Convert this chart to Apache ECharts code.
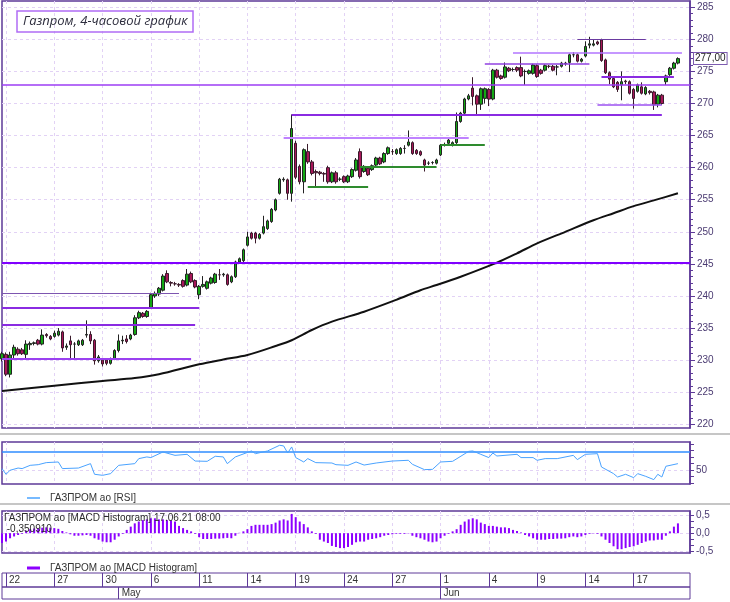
<!DOCTYPE html>
<html>
<head>
<meta charset="utf-8">
<title>Газпром, 4-часовой график</title>
<script src="https://cdn.jsdelivr.net/npm/echarts@6/dist/echarts.min.js"></script>
<style>
  html, body { margin: 0; padding: 0; background: #fff; }
  #chart { width: 730px; height: 602px; }
</style>
</head>
<body>
<div id="chart"></div>
<script>
// 4-hour candles, one value per bar
const opens = [
  230.2, 230.9, 227.8, 230.8, 231.7, 231.6, 230.9, 232.4, 232.6, 233.1,
  232.5, 234.0, 233.7, 233.7, 233.9, 234.4, 232.0, 233.0, 232.5, 232.4,
  232.4, 233.9, 234.0, 233.1, 229.9, 230.0, 230.0, 229.5, 230.2, 231.5,
  233.0, 233.3, 233.3, 234.0, 236.6, 237.3, 236.8, 238.2, 240.0, 240.3,
  240.9, 243.5, 242.1, 241.9, 241.8, 242.4, 241.7, 243.5, 242.4, 240.2,
  241.5, 241.2, 242.0, 242.1, 243.3, 243.3, 243.3, 242.2, 243.0, 245.3,
  245.5, 247.9, 249.8, 249.8, 249.0, 249.8, 250.5, 251.6, 253.4, 256.0,
  258.1, 258.1, 256.0, 263.8, 260.2, 257.8, 262.5, 260.9, 259.4, 259.3,
  259.1, 260.0, 257.8, 259.2, 258.2, 258.6, 257.8, 258.6, 259.6, 262.5,
  259.4, 259.9, 259.7, 260.4, 261.5, 260.9, 262.2, 262.5, 262.2, 262.2,
  263.0, 263.5, 263.9, 262.7, 262.5, 261.2, 260.7, 260.8, 260.7, 262.0,
  263.6, 263.8, 263.5, 263.9, 267.2, 268.5, 270.7, 272.4, 271.2, 269.9,
  270.8, 272.2, 270.7, 275.2, 274.3, 274.1, 275.5, 275.3, 275.6, 275.6,
  275.0, 274.7, 274.7, 275.9, 275.2, 275.2, 275.8, 275.8, 275.7, 275.8,
  276.2, 276.4, 277.6, 277.6, 276.6, 277.4, 279.1, 279.1, 279.6, 279.9,
  276.8, 274.8, 273.9, 273.3, 272.9, 273.5, 273.4, 272.2, 271.9, 272.6,
  271.5, 271.9, 271.8, 269.9, 271.3, 273.4, 274.5, 275.5, 276.3
];
const closes = [
  231.0, 227.8, 230.8, 232.0, 231.0, 231.0, 232.5, 232.6, 232.7, 232.5,
  233.9, 233.8, 233.3, 234.2, 234.5, 231.9, 232.2, 232.4, 232.5, 233.0,
  233.1, 234.0, 233.0, 229.9, 230.5, 229.4, 229.5, 230.2, 231.5, 233.0,
  233.1, 232.9, 233.9, 236.6, 237.4, 236.8, 237.6, 240.2, 240.4, 241.2,
  243.1, 242.2, 242.0, 241.9, 241.7, 241.5, 243.4, 242.2, 241.4, 241.5,
  241.8, 242.2, 242.8, 243.4, 243.3, 243.4, 241.8, 243.0, 245.3, 245.8,
  247.2, 249.2, 249.0, 249.0, 249.6, 250.8, 251.7, 253.5, 255.0, 258.2,
  258.2, 256.0, 266.1, 258.5, 257.8, 262.8, 260.9, 259.1, 259.2, 259.1,
  259.0, 257.8, 259.2, 257.8, 258.2, 257.8, 258.7, 259.7, 261.2, 258.6,
  260.2, 258.9, 260.3, 261.5, 260.6, 262.2, 263.1, 262.5, 262.8, 263.0,
  263.0, 264.0, 262.2, 262.2, 262.0, 260.4, 260.7, 260.8, 261.2, 263.5,
  263.6, 264.3, 263.9, 267.2, 268.5, 270.7, 271.2, 271.1, 269.9, 272.3,
  272.3, 270.7, 275.2, 274.1, 273.9, 275.7, 275.1, 275.3, 275.2, 274.3,
  275.0, 275.1, 276.0, 274.2, 274.7, 275.9, 275.8, 275.2, 275.7, 276.3,
  276.3, 277.6, 277.6, 276.6, 276.9, 278.9, 279.3, 279.3, 279.3, 276.7,
  274.8, 273.8, 272.6, 272.2, 273.4, 273.4, 271.6, 270.8, 272.9, 271.6,
  272.5, 271.7, 269.8, 271.3, 270.0, 274.3, 275.5, 276.3, 277.0
];
const lows = [
  229.8, 227.5, 227.3, 230.3, 230.7, 230.8, 230.2, 231.6, 232.3, 232.3,
  232.3, 233.5, 233.1, 233.5, 233.7, 231.3, 231.6, 230.2, 230.2, 232.2,
  232.2, 233.5, 232.5, 229.3, 229.6, 229.0, 229.2, 229.3, 230.0, 231.2,
  232.5, 232.6, 233.1, 233.8, 236.4, 236.6, 236.6, 238.0, 239.7, 240.0,
  240.7, 242.0, 241.5, 241.6, 241.4, 241.3, 241.5, 242.0, 241.2, 239.5,
  241.3, 241.0, 241.8, 241.9, 242.5, 243.0, 241.6, 242.0, 242.8, 245.1,
  245.3, 247.7, 248.8, 248.2, 248.8, 249.6, 250.3, 251.4, 253.2, 255.8,
  257.8, 255.0, 254.7, 258.2, 257.4, 256.0, 260.6, 258.8, 256.9, 258.8,
  257.8, 257.5, 257.6, 257.5, 257.9, 257.6, 257.6, 258.4, 259.4, 258.3,
  259.2, 258.7, 259.5, 260.2, 260.4, 260.7, 262.0, 262.0, 262.0, 262.0,
  262.2, 263.3, 262.0, 262.0, 261.8, 259.4, 260.4, 260.5, 260.5, 261.8,
  263.3, 263.6, 263.3, 263.7, 267.0, 268.3, 270.5, 269.7, 268.2, 269.0,
  270.0, 269.6, 270.5, 273.9, 273.7, 273.9, 274.9, 275.0, 274.9, 274.1,
  272.9, 274.5, 274.5, 274.0, 274.5, 275.0, 275.5, 275.0, 274.4, 275.6,
  275.9, 274.9, 277.2, 276.4, 276.4, 277.2, 278.6, 278.9, 279.1, 276.5,
  274.6, 273.0, 272.4, 271.8, 270.5, 273.0, 271.4, 269.2, 271.7, 271.4,
  271.3, 271.4, 269.0, 269.4, 269.8, 272.9, 274.3, 275.3, 276.1
];
const highs = [
  231.3, 231.2, 231.3, 232.4, 232.0, 231.9, 233.1, 232.9, 232.9, 233.3,
  234.8, 234.2, 233.9, 234.6, 235.0, 234.6, 232.6, 233.8, 232.8, 233.2,
  233.3, 236.2, 234.5, 233.3, 230.8, 230.2, 230.3, 230.4, 231.7, 234.0,
  233.8, 233.9, 234.1, 237.0, 237.7, 237.5, 237.8, 240.5, 240.7, 241.4,
  243.4, 244.0, 242.3, 242.2, 242.0, 242.6, 244.2, 243.8, 242.6, 241.7,
  243.1, 242.4, 243.0, 243.6, 244.2, 243.6, 243.5, 243.2, 245.5, 246.0,
  247.4, 250.0, 250.0, 250.0, 249.8, 252.5, 251.9, 253.7, 255.2, 258.4,
  258.5, 258.3, 268.3, 264.2, 260.5, 263.0, 263.7, 261.2, 259.7, 259.5,
  259.3, 260.3, 259.4, 259.5, 258.5, 258.8, 258.9, 259.9, 261.5, 263.0,
  260.4, 260.1, 260.5, 261.7, 261.7, 262.4, 263.3, 262.9, 263.0, 263.2,
  263.5, 265.8, 264.1, 262.9, 262.7, 261.4, 261.0, 261.0, 261.4, 263.7,
  263.9, 264.5, 264.1, 268.6, 268.7, 270.9, 271.5, 274.1, 271.4, 272.5,
  272.5, 272.4, 275.4, 275.4, 274.5, 276.4, 275.7, 275.6, 275.8, 277.3,
  275.3, 275.3, 276.2, 276.1, 275.4, 276.1, 276.0, 276.0, 276.0, 276.5,
  276.5, 277.8, 278.0, 277.8, 277.1, 279.7, 280.4, 279.9, 279.8, 280.1,
  277.0, 275.0, 274.1, 273.5, 275.0, 273.7, 273.6, 272.4, 273.1, 273.3,
  272.7, 272.1, 272.0, 271.5, 271.5, 274.5, 275.7, 276.5, 277.2
];

// moving average: [bar, value]
const maPoints = [
  [0, 225.2], [13, 226.0], [25, 226.75], [33, 227.2], [39, 227.8], [49, 229.35],
  [55, 230.1], [61, 230.8], [68, 232.2], [72, 233.1], [77, 234.7], [82, 236.0],
  [90, 237.55], [98, 239.4], [104, 240.9], [108, 241.7], [114, 243.0], [123, 245.2],
  [128, 246.65], [133, 248.2], [140, 250.0], [147, 251.8], [152, 252.9], [157, 254.0],
  [162, 254.9], [168, 256.0]
];

// RSI: [bar, value]
const rsiPoints = [
  [0, 51.5], [1, 45.4], [2, 49.7], [4, 52.1], [5, 51.5], [7, 55.0], [9, 55.7], [11, 57.9],
  [14, 58.6], [15, 51.5], [19, 52.1], [22, 56.8], [23, 45.4], [25, 44.3], [27, 46.1],
  [29, 55.0], [33, 56.8], [34, 62.2], [36, 64.0], [37, 63.3], [40, 69.3], [43, 65.7],
  [46, 66.8], [48, 59.6], [51, 59.3], [53, 64.7], [55, 64.0], [56, 56.8], [58, 64.0],
  [62, 70.4], [63, 67.5], [66, 70.4], [69, 76.5], [70, 75.8], [71, 68.2], [72, 74.7],
  [73, 63.3], [75, 58.6], [76, 62.2], [78, 57.9], [82, 57.5], [83, 55.7], [86, 55.0],
  [88, 58.6], [90, 55.3], [93, 57.5], [97, 59.6], [101, 60.4], [102, 56.1], [105, 50.4],
  [107, 50.7], [109, 58.6], [112, 59.3], [116, 70.0], [117, 70.4], [119, 66.8],
  [121, 63.3], [122, 68.2], [123, 65.0], [128, 66.8], [129, 63.3], [132, 63.3],
  [133, 60.4], [135, 62.2], [138, 62.2], [142, 65.7], [143, 61.1], [145, 66.8],
  [148, 67.5], [149, 53.2], [152, 46.1], [153, 42.5], [155, 45.4], [157, 41.8],
  [158, 46.1], [160, 43.2], [162, 39.7], [163, 45.4], [164, 42.5], [165, 54.0], [168, 56.8]
];

// MACD histogram, one value per bar
const macdHist = [
  -0.27, -0.23, -0.14, -0.09, -0.05, -0.02, 0.07, 0.11, 0.13, 0.14,
  0.15, 0.16, 0.15, 0.14, 0.12, 0.06, 0.02, -0.03, -0.07, -0.07,
  -0.06, -0.05, -0.07, -0.14, -0.18, -0.23, -0.25, -0.25, -0.18, -0.09,
  -0.02, 0.09, 0.18, 0.27, 0.32, 0.36, 0.38, 0.41, 0.41, 0.38,
  0.38, 0.36, 0.35, 0.32, 0.20, 0.14, 0.09, 0.05, -0.02, -0.11,
  -0.16, -0.16, -0.16, -0.15, -0.15, -0.14, -0.13, -0.14, -0.07, 0.01,
  0.05, 0.11, 0.20, 0.23, 0.23, 0.23, 0.23, 0.25, 0.29, 0.35,
  0.38, 0.35, 0.53, 0.44, 0.32, 0.25, 0.16, 0.05, -0.02, -0.18,
  -0.23, -0.27, -0.35, -0.38, -0.41, -0.41, -0.38, -0.32, -0.25, -0.23,
  -0.23, -0.18, -0.16, -0.14, -0.11, -0.07, -0.05, -0.03, -0.02, -0.02,
  -0.02, -0.01, -0.07, -0.11, -0.14, -0.18, -0.23, -0.25, -0.23, -0.14,
  -0.07, -0.02, 0.05, 0.11, 0.23, 0.32, 0.38, 0.41, 0.38, 0.29,
  0.25, 0.20, 0.20, 0.18, 0.16, 0.16, 0.14, 0.09, 0.06, 0.02,
  -0.05, -0.09, -0.14, -0.18, -0.18, -0.18, -0.16, -0.16, -0.15, -0.15,
  -0.14, -0.11, -0.09, -0.11, -0.09, -0.05, -0.02, -0.01, -0.02, -0.09,
  -0.18, -0.27, -0.36, -0.44, -0.44, -0.41, -0.38, -0.36, -0.32, -0.27,
  -0.23, -0.20, -0.20, -0.18, -0.18, -0.07, 0.05, 0.18, 0.27
];

// date axis
const dayLabels = ['22', '27', '30', '6', '11', '14', '19', '24', '27', '1', '4', '9', '14', '17'];
const dayBars = [1, 13, 25, 37, 49, 61, 73, 85, 97, 109, 121, 133, 145, 157];
const monthLabels = ['May', 'Jun'];
const monthBars = [29, 109];

const priceTicks = [220, 225, 230, 235, 240, 245, 250, 255, 260, 265, 270, 275, 280, 285];
const rsiTicks = [36, 43, 50, 57, 64, 71, 78];
const rsiLabels = [50];
const macdTicks = [-0.5, -0.333, -0.167, 0, 0.167, 0.333, 0.5];
const macdLabels = [-0.5, 0, 0.5];

// support / resistance lines: [price, fromBar, toBar]; null = whole width
const levels = [
  [272.85, null, null],
  [268.3, 72, 164],
  [264.7, 70, 116],
  [257.0, 76, 91],
  [260.15, 89, 108],
  [263.64, 109, 120],
  [276.27, 120, 146],
  [277.98, 127, 169],
  [279.96, 143, 160],
  [274.14, 149, 167],
  [269.88, 148, 164],
  [245.2, null, null],
  [240.4, 0, 44],
  [238.2, 0, 49],
  [235.5, 0, 48],
  [230.15, 0, 47]
];
const lastClose = 277.0;

const levelStyles = [
  { color: '#9d3cf5', width: 1.5 },
  { color: '#8a2be2', width: 2 },
  { color: '#bf82ff', width: 2 },
  { color: '#2e8b2e', width: 2 },
  { color: '#2e8b2e', width: 2 },
  { color: '#2e8b2e', width: 2 },
  { color: '#9040e0', width: 1.5 },
  { color: '#b274ff', width: 1.5 },
  { color: '#6a3aa0', width: 1.2 },
  { color: '#8a2be2', width: 2 },
  { color: '#9b50f0', width: 1.5 },
  { color: '#8000ff', width: 2 },
  { color: '#7d55b0', width: 1 },
  { color: '#8a2be2', width: 2 },
  { color: '#8a2be2', width: 2 },
  { color: '#9a40f0', width: 2 }
];

const BARS = 172;
const cats = [];
for (let i = 0; i < BARS; i++) cats.push(String(i));

const dayAt = {};
dayBars.forEach((b, k) => { dayAt[b] = dayLabels[k]; });
const monthAt = {};
monthBars.forEach((b, k) => { monthAt[b] = monthLabels[k]; });

const candles = opens.map((o, i) => [o, closes[i], lows[i], highs[i]]);
const priceMinor = [];
for (let p = priceTicks[0]; p <= priceTicks[priceTicks.length - 1]; p++) priceMinor.push(p);

const frame = '#5e3a98';
const font = 'Liberation Sans, Arial, sans-serif';
const gridDash = { color: '#e2d2f5', type: [3, 3], width: 1 };
const comma = v => v.toFixed(1).replace('.', ',');

function panelX(gi) {
  return {
    type: 'category', gridIndex: gi, data: cats, boundaryGap: false,
    axisLine: { show: false }, axisTick: { show: false }, axisLabel: { show: false },
    splitLine: { show: true, interval: i => dayAt[i] !== undefined, lineStyle: gridDash }
  };
}

function dateX(gi, lookup, margin) {
  return {
    type: 'category', gridIndex: gi, data: cats, boundaryGap: false, position: 'top',
    axisLine: { show: false }, axisTick: { show: false },
    axisLabel: {
      show: true, inside: true, interval: i => lookup[i] !== undefined,
      formatter: (v, i) => lookup[i] || '', align: 'left', verticalAlign: 'middle',
      margin: margin, padding: [0, 0, 0, 3], color: '#333', fontSize: 10, fontFamily: font
    },
    splitLine: { show: true, interval: i => lookup[i] !== undefined, lineStyle: { color: frame, width: 1 } }
  };
}

const levelLines = levels.map((lv, k) => {
  const st = { color: levelStyles[k].color, width: levelStyles[k].width, type: 'solid' };
  if (lv[1] === null) return { yAxis: lv[0], lineStyle: st };
  return [{ coord: [lv[1], lv[0]], lineStyle: st }, { coord: [lv[2], lv[0]] }];
});

const chart = echarts.init(document.getElementById('chart'));
chart.setOption({
  animation: false,
  backgroundColor: '#fff',
  textStyle: { fontFamily: font },
  title: [
    {
      text: 'Газпром, 4-часовой график', left: 17, top: 11, padding: [4, 6, 4, 6],
      borderColor: '#b06cf5', borderWidth: 1.5,
      textStyle: { fontStyle: 'italic', fontWeight: 'normal', fontSize: 13, color: '#2e2e3e', fontFamily: 'Open Sans' }
    },
    {
      text: 'ГАЗПРОМ ао [MACD Histogram] 17.06.21 08:00\n -0,350910', left: 4, top: 513, padding: 0,
      textStyle: { fontWeight: 'normal', fontSize: 10, lineHeight: 11, color: '#2a2a2a', fontFamily: font }
    }
  ],
  legend: [
    {
      data: ['ГАЗПРОМ ао [RSI]'], left: 22, top: 488, icon: 'rect', itemWidth: 13, itemHeight: 1.5,
      selectedMode: false, textStyle: { fontSize: 10, color: '#333', padding: [0, 0, 0, 5] }
    },
    {
      data: ['ГАЗПРОМ ао [MACD Histogram]'], left: 22, top: 558, icon: 'rect', itemWidth: 13, itemHeight: 3,
      selectedMode: false, textStyle: { fontSize: 10, color: '#333', padding: [0, 0, 0, 5] }
    }
  ],
  graphic: [
    { type: 'line', shape: { x1: 0, y1: 434, x2: 730, y2: 434 }, style: { stroke: '#c6c6c6', lineWidth: 2 } },
    { type: 'line', shape: { x1: 0, y1: 504, x2: 730, y2: 504 }, style: { stroke: '#c6c6c6', lineWidth: 2 } }
  ],
  grid: [
    { left: 2, top: 1, width: 688, height: 427, show: true, borderColor: frame, borderWidth: 1.5 },
    { left: 2, top: 442, width: 688, height: 42, show: true, borderColor: frame, borderWidth: 1.5 },
    { left: 2, top: 511, width: 688, height: 42, show: true, borderColor: frame, borderWidth: 1.5 },
    { left: 2, top: 573, width: 688, height: 14, show: true, borderColor: frame, borderWidth: 1 },
    { left: 2, top: 587, width: 688, height: 12, show: true, borderColor: frame, borderWidth: 1 }
  ],
  xAxis: [panelX(0), panelX(1), panelX(2), dateX(3, dayAt, 7), dateX(4, monthAt, 6)],
  yAxis: [
    {
      type: 'value', gridIndex: 0, position: 'right', min: 219.42, max: 285.98,
      axisLine: { show: true, lineStyle: { color: frame, width: 1.5 } },
      axisTick: { show: true, length: 5, customValues: priceTicks, lineStyle: { color: frame } },
      axisLabel: { show: true, customValues: priceTicks, color: '#4b3b72', fontSize: 10, margin: 7 },
      splitLine: { show: false }
    },
    {
      type: 'value', gridIndex: 0, position: 'right', min: 219.42, max: 285.98,
      axisLine: { show: false },
      axisTick: { show: true, length: 3, customValues: priceMinor, lineStyle: { color: frame } },
      axisLabel: { show: false }, splitLine: { show: false }
    },
    {
      type: 'value', gridIndex: 1, position: 'right', min: 35, max: 80,
      axisLine: { show: true, lineStyle: { color: frame, width: 1.5 } },
      axisTick: { show: true, length: 4, customValues: rsiTicks, lineStyle: { color: frame } },
      axisLabel: { show: true, customValues: rsiLabels, color: '#4b3b72', fontSize: 10, margin: 6 },
      splitLine: { show: false }
    },
    {
      type: 'value', gridIndex: 2, position: 'right', min: -0.545, max: 0.61,
      axisLine: { show: true, lineStyle: { color: frame, width: 1.5 } },
      axisTick: { show: true, length: 4, customValues: macdTicks, lineStyle: { color: frame } },
      axisLabel: { show: true, customValues: macdLabels, formatter: comma, color: '#4b3b72', fontSize: 10, margin: 6 },
      splitLine: { show: false }
    },
    { type: 'value', gridIndex: 3, show: false },
    { type: 'value', gridIndex: 4, show: false }
  ],
  series: [
    {
      type: 'candlestick', name: 'ГАЗПРОМ ао', xAxisIndex: 0, yAxisIndex: 0,
      data: candles, barWidth: 3, clip: false, z: 3,
      itemStyle: {
        color: '#14a814', color0: '#a8175a',
        borderColor: '#222', borderColor0: '#3a1a2a', borderWidth: 1
      },
      markLine: { silent: true, symbol: 'none', z: 5, label: { show: false }, data: levelLines }
    },
    {
      // last price tag on the price axis
      type: 'line', name: 'last', xAxisIndex: 0, yAxisIndex: 0, data: [],
      markLine: {
        silent: true, symbol: 'none', z: 6,
        lineStyle: { color: 'rgba(0,0,0,0)', width: 1, type: 'solid' },
        label: {
          show: true, position: 'end', distance: 4, formatter: '277,00',
          color: '#222', fontSize: 10, lineHeight: 10, fontFamily: font, backgroundColor: '#fff',
          borderColor: '#7d5cb0', borderWidth: 1, padding: [1, 1, 0, 1]
        },
        data: [{ yAxis: lastClose }]
      }
    },
    {
      type: 'line', name: 'MA', xAxisIndex: 0, yAxisIndex: 0, data: maPoints,
      showSymbol: false, smooth: 0.3, z: 2,
      lineStyle: { color: '#111', width: 2 },
      markLine: {
        silent: true, symbol: 'none', z: 1, label: { show: false }, lineStyle: gridDash,
        data: priceTicks.map(p => ({ yAxis: p }))
      }
    },
    {
      type: 'line', name: 'ГАЗПРОМ ао [RSI]', xAxisIndex: 1, yAxisIndex: 2, data: rsiPoints,
      showSymbol: false, color: '#4aa3ff', lineStyle: { color: '#4aa3ff', width: 1 },
      markLine: {
        silent: true, symbol: 'none', z: 1, label: { show: false },
        data: [
          { yAxis: 50, lineStyle: gridDash },
          { yAxis: 70, lineStyle: { color: '#2f8cff', width: 1.5, type: 'solid' } }
        ]
      }
    },
    {
      type: 'bar', name: 'ГАЗПРОМ ао [MACD Histogram]', xAxisIndex: 2, yAxisIndex: 3, data: macdHist,
      barWidth: 2, color: '#8c00ff', itemStyle: { color: '#8c00ff' },
      markLine: {
        silent: true, symbol: 'none', z: 1, label: { show: false }, lineStyle: gridDash,
        data: macdLabels.map(v => ({ yAxis: v }))
      }
    }
  ]
});
</script>
</body>
</html>
